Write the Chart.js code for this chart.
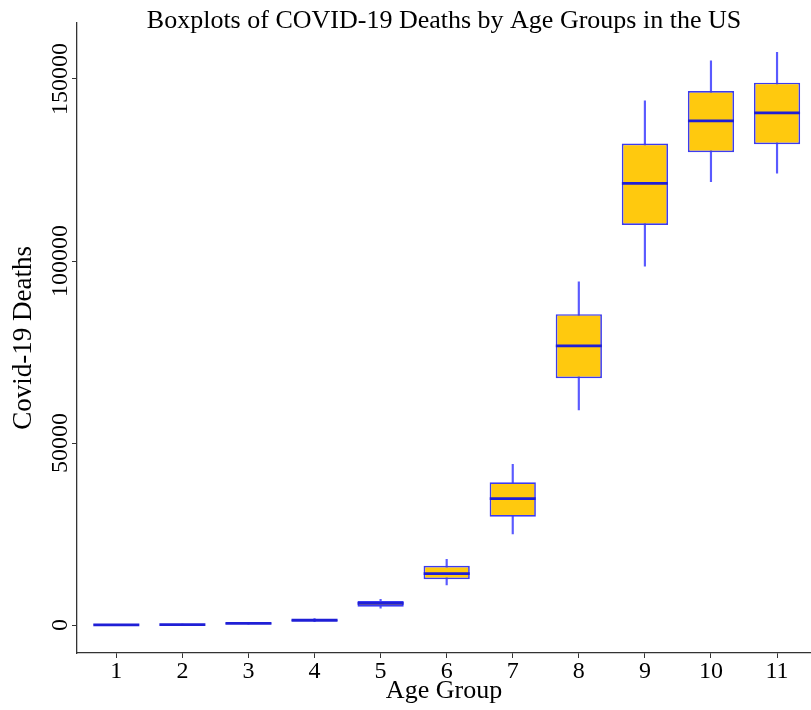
<!DOCTYPE html>
<html lang="en">
<head>
    <meta charset="UTF-8">
    <title>Boxplots of COVID-19 Deaths by Age Groups in the US</title>
    <script src="https://cdn.jsdelivr.net/npm/chart.js"></script>
    <style>
        html, body {
            margin: 0;
            padding: 0;
            background: #ffffff;
        }
        #wrap {
            width: 811px;
            height: 710px;
        }
    </style>
</head>
<body>
    <div id="wrap"><canvas id="chart"></canvas></div>

    <script>
        // Age groups on the x axis
        const groups = [1, 2, 3, 4, 5, 6, 7, 8, 9, 10, 11];

        // Five-number summaries
        const whiskerLow  = [0, 0, 250, 900, 4600, 11000, 25000, 59100, 98600, 121800, 124100];
        const q1          = [20, 40, 330, 1100, 5030, 12550, 29750, 67800, 109900, 129900, 132100];
        const median      = [60, 90, 420, 1300, 5960, 14090, 34700, 76700, 121300, 138500, 140700];
        const q3          = [110, 150, 520, 1500, 6590, 16290, 39200, 85400, 132300, 146700, 149000];
        const whiskerHigh = [180, 230, 650, 1750, 7060, 18050, 44150, 94300, 144000, 155000, 157300];

        const yTicks = [0, 50000, 100000, 150000];

        const serif = 'Liberation Serif, Times New Roman, serif';

        const ctx = document.getElementById('chart').getContext('2d');
        const chart = new Chart(ctx, {
            type: 'bar',
            data: {
                datasets: [
                    {
                        // median line
                        type: 'line',
                        data: groups.map((g, i) => ({ x: g, y: median[i] })),
                        showLine: false,
                        pointStyle: 'line',
                        pointRadius: 23,
                        pointHoverRadius: 23,
                        pointBorderWidth: 2.8,
                        pointBorderColor: '#1f1fd6',
                        order: 0
                    },
                    {
                        // box from q1 to q3
                        data: groups.map((g, i) => ({ x: g, y: [q1[i], q3[i]] })),
                        backgroundColor: '#ffc90e',
                        borderColor: '#3b3bf2',
                        borderWidth: 1.7,
                        borderSkipped: false,
                        grouped: false,
                        barPercentage: 0.7,
                        categoryPercentage: 1.0,
                        order: 1
                    },
                    {
                        // whisker from min to max, behind the box
                        data: groups.map((g, i) => ({ x: g, y: [whiskerLow[i], whiskerHigh[i]] })),
                        backgroundColor: '#5a5aff',
                        borderWidth: 0,
                        grouped: false,
                        barThickness: 1.5,
                        order: 2
                    }
                ]
            },
            options: {
                responsive: true,
                maintainAspectRatio: false,
                animation: false,
                events: [],
                layout: { padding: 0, autoPadding: false },
                plugins: {
                    legend: { display: false },
                    tooltip: { enabled: false },
                    title: {
                        display: true,
                        text: 'Boxplots of COVID-19 Deaths by Age Groups in the US',
                        color: '#000',
                        fullSize: false,
                        font: { family: serif, size: 26, weight: 'normal' },
                        padding: { top: 6, bottom: -14.5 }
                    }
                },
                scales: {
                    x: {
                        type: 'linear',
                        offset: false,
                        min: 0.405,
                        max: 11.514,
                        afterBuildTicks: (axis) => {
                            axis.ticks = groups.map(v => ({ value: v }));
                        },
                        afterFit: (scale) => { scale.height = 57; },
                        grid: {
                            display: true,
                            offset: false,
                            drawOnChartArea: false,
                            drawTicks: true,
                            tickLength: 5,
                            color: '#333'
                        },
                        border: { display: true, color: '#333', width: 1.3 },
                        ticks: {
                            autoSkip: false,
                            maxRotation: 0,
                            padding: -1,
                            color: '#000',
                            font: { family: serif, size: 24 },
                            callback: (v) => String(v)
                        },
                        title: {
                            display: true,
                            text: 'Age Group',
                            color: '#000',
                            font: { family: serif, size: 26 },
                            padding: { top: 0, bottom: 3 }
                        }
                    },
                    y: {
                        type: 'linear',
                        min: -7692,
                        max: 165467,
                        afterBuildTicks: (axis) => {
                            axis.ticks = yTicks.map(v => ({ value: v }));
                        },
                        afterFit: (scale) => { scale.width = 77; },
                        grid: {
                            display: true,
                            drawOnChartArea: false,
                            drawTicks: true,
                            tickLength: 5,
                            color: '#333'
                        },
                        border: { display: true, color: '#333', width: 1.3 },
                        ticks: {
                            autoSkip: false,
                            minRotation: 90,
                            maxRotation: 90,
                            crossAlign: 'center',
                            padding: -25,
                            color: '#000',
                            font: { family: serif, size: 24 },
                            callback: (v) => String(v)
                        },
                        title: {
                            display: true,
                            text: 'Covid-19 Deaths',
                            color: '#000',
                            font: { family: serif, size: 27 },
                            padding: { top: 8, bottom: 0 }
                        }
                    }
                }
            }
        });
    </script>
</body>
</html>
